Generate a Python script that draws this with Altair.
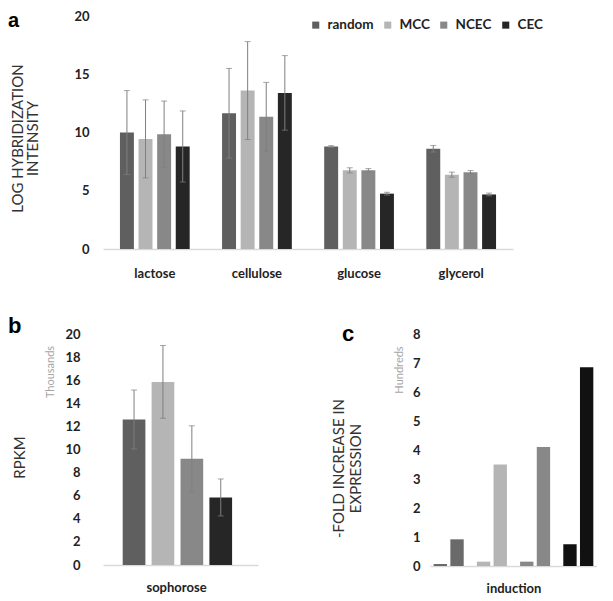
import altair as alt
import pandas as pd

# ---------------- data ----------------
substrates = ["lactose", "cellulose", "glucose", "glycerol"]
series = ["random", "MCC", "NCEC", "CEC"]
colors = ["#5f5f5f", "#b5b5b5", "#888888", "#262626"]
colors_c = ["#6a6a6a", "#b5b5b5", "#888888", "#111111"]

# panel a: log hybridization intensity (value, +/- error) per substrate, order = series
hyb_lactose = [10.0, 9.45, 9.85, 8.8]
hyb_lactose_err = [3.6, 3.35, 2.85, 3.05]
hyb_cellulose = [11.65, 13.6, 11.35, 13.4]
hyb_cellulose_err = [3.85, 4.2, 2.95, 3.2]
hyb_glucose = [8.8, 6.75, 6.75, 4.75]
hyb_glucose_err = [0.07, 0.22, 0.15, 0.12]
hyb_glycerol = [8.6, 6.38, 6.58, 4.68]
hyb_glycerol_err = [0.28, 0.22, 0.15, 0.12]

# panel b: RPKM (thousands) on sophorose
rpkm_sophorose = [12.6, 15.85, 9.2, 5.85]
rpkm_err = [2.55, 3.15, 2.85, 1.6]

# panel c: fold increase in expression (hundreds)
conditions = ["basal", "induced"]
fold_basal = [0.07, 0.15, 0.15, 0.75]
fold_induced = [0.92, 3.5, 4.1, 6.85]

# ---------------- tables ----------------
hyb_vals = [hyb_lactose, hyb_cellulose, hyb_glucose, hyb_glycerol]
hyb_errs = [hyb_lactose_err, hyb_cellulose_err, hyb_glucose_err, hyb_glycerol_err]
rows = []
for s, vals, errs in zip(substrates, hyb_vals, hyb_errs):
    for ser, v, e in zip(series, vals, errs):
        rows.append({"substrate": s, "series": ser, "value": v, "lo": v - e, "hi": v + e})
df_a = pd.DataFrame(rows)

df_b = pd.DataFrame({
    "series": series,
    "value": rpkm_sophorose,
    "lo": [v - e for v, e in zip(rpkm_sophorose, rpkm_err)],
    "hi": [v + e for v, e in zip(rpkm_sophorose, rpkm_err)],
})

rows = []
for ser, b, i in zip(series, fold_basal, fold_induced):
    rows.append({"series": ser, "condition": conditions[0], "value": b})
    rows.append({"series": ser, "condition": conditions[1], "value": i})
df_c = pd.DataFrame(rows)

FONT = "Lato"
LBL = "#222222"
TTL = "#333333"
ERR = "#7f7f7f"
BASE = "#d9d9d9"


def y_axis(values, title, pad, tx, ty, lh):
    return alt.Axis(values=values, grid=False, domain=False, ticks=False,
                    labelFont=FONT, labelFontWeight="bold", labelFontSize=13,
                    labelColor=LBL, labelPadding=pad, labelOverlap=False,
                    title=title, titleFont=FONT, titleFontWeight="normal",
                    titleFontSize=15, titleColor=TTL, titleX=tx, titleY=ty,
                    titleLineHeight=lh, titleBaseline="alphabetic", titleAlign="center",
                    titleAngle=270)


def letter(ch, x, y, size=22):
    return alt.Chart(pd.DataFrame({"t": [ch]})).mark_text(
        font="Liberation Sans", fontWeight="bold", fontSize=size, align="left",
        baseline="alphabetic", color="#000000"
    ).encode(text="t:N", x=alt.value(x), y=alt.value(y))


def unit_label(txt, x, y):
    return alt.Chart(pd.DataFrame({"t": [txt]})).mark_text(
        font=FONT, fontSize=11, angle=270, color="#a6a6a6", align="center",
        baseline="middle"
    ).encode(text="t:N", x=alt.value(x), y=alt.value(y))


# ---------------- panel a ----------------
scale_ya = alt.Scale(domain=[0, 20])
axis_ya = y_axis([0, 5, 10, 15, 20], ["LOG HYBRIDIZATION", "INTENSITY"], 14, -81, 122, 15)
base_a = alt.Chart(df_a).encode(
    x=alt.X("substrate:N", sort=substrates,
            scale=alt.Scale(paddingInner=0.317, paddingOuter=0.166),
            axis=alt.Axis(title=None, labelAngle=0, labelFont=FONT, labelFontWeight="bold",
                          labelFontSize=13, labelColor=LBL, labelPadding=18, ticks=False,
                          domainColor=BASE, domainWidth=1.5)),
    xOffset=alt.XOffset("series:N", sort=series,
                        scale=alt.Scale(paddingInner=0.25, paddingOuter=0)),
)
bars_a = base_a.mark_bar().encode(
    y=alt.Y("value:Q", scale=scale_ya, axis=axis_ya),
    color=alt.Color("series:N", sort=series, scale=alt.Scale(domain=series, range=colors),
                    legend=alt.Legend(title=None, orient="none", legendX=206, legendY=2,
                                      direction="horizontal", columns=4, symbolType="square",
                                      symbolSize=50, symbolStrokeWidth=0, labelFont=FONT,
                                      labelFontWeight="bold", labelFontSize=13.5,
                                      labelColor=LBL, labelOffset=5, columnPadding=7,
                                      padding=0)),
)
rule_a = base_a.mark_rule(color=ERR, strokeWidth=1).encode(
    y=alt.Y("lo:Q", scale=scale_ya, axis=axis_ya), y2="hi:Q")
cap_hi_a = base_a.mark_tick(color=ERR, thickness=1, size=6).encode(
    y=alt.Y("hi:Q", scale=scale_ya, axis=axis_ya))
cap_lo_a = base_a.mark_tick(color=ERR, thickness=1, size=6).encode(
    y=alt.Y("lo:Q", scale=scale_ya, axis=axis_ya))

panel_a = alt.layer(bars_a, rule_a, cap_hi_a, cap_lo_a, letter("a", -95, 11, 20)).properties(
    width=410, height=233)

# ---------------- panel b ----------------
scale_yb = alt.Scale(domain=[0, 20])
axis_yb = y_axis(list(range(0, 21, 2)), "RPKM", 23, -79, 123, 15)
base_b = alt.Chart(df_b).encode(
    x=alt.X("series:N", sort=series,
            scale=alt.Scale(paddingInner=0.215, paddingOuter=0.789, align=0.432),
            axis=alt.Axis(labels=False, ticks=False, title="sophorose", titleFont=FONT,
                          titleFontWeight="bold", titleFontSize=13, titleColor=LBL,
                          titlePadding=16, titleX=73, domainColor=BASE, domainWidth=1.5)),
)
bars_b = base_b.mark_bar().encode(
    y=alt.Y("value:Q", scale=scale_yb, axis=axis_yb),
    color=alt.Color("series:N", sort=series, scale=alt.Scale(domain=series, range=colors),
                    legend=None),
)
rule_b = base_b.mark_rule(color=ERR, strokeWidth=1).encode(
    y=alt.Y("lo:Q", scale=scale_yb, axis=axis_yb), y2="hi:Q")
cap_hi_b = base_b.mark_tick(color=ERR, thickness=1, size=6).encode(
    y=alt.Y("hi:Q", scale=scale_yb, axis=axis_yb))
cap_lo_b = base_b.mark_tick(color=ERR, thickness=1, size=6).encode(
    y=alt.Y("lo:Q", scale=scale_yb, axis=axis_yb))

panel_b = alt.layer(bars_b, rule_b, cap_hi_b, cap_lo_b, letter("b", -95, -1),
                    unit_label("Thousands", -52, 38)).properties(width=155, height=231)

# ---------------- panel c ----------------
bars_c = alt.Chart(df_c).mark_bar().encode(
    x=alt.X("series:N", sort=series,
            scale=alt.Scale(paddingInner=0.305, paddingOuter=0.085),
            axis=alt.Axis(labels=False, ticks=False, title="induction", titleFont=FONT,
                          titleFontWeight="bold", titleFontSize=13, titleColor=LBL,
                          titlePadding=16, domainColor=BASE, domainWidth=1.5)),
    xOffset=alt.XOffset("condition:N", sort=conditions,
                        scale=alt.Scale(paddingInner=0.2, paddingOuter=0)),
    y=alt.Y("value:Q", scale=alt.Scale(domain=[0, 8]),
            axis=y_axis(list(range(0, 9)), ["-FOLD INCREASE  IN", "EXPRESSION"], 10, -87, 134, 17.5)),
    color=alt.Color("series:N", sort=series, scale=alt.Scale(domain=series, range=colors_c),
                    legend=None),
)
panel_c = alt.layer(bars_c, letter("c", -88, 7),
                    unit_label("Hundreds", -30, 36)).properties(width=167, height=232)

bottom = alt.hconcat(panel_b, panel_c, spacing=172, bounds="flush").resolve_scale(
    x="independent", y="independent", xOffset="independent", color="independent")

chart = alt.concat(panel_a, bottom, columns=1, spacing=35).resolve_scale(
    x="independent", y="independent", xOffset="independent", color="independent"
).properties(padding={"top": 2, "left": 0, "right": 0, "bottom": 0}).configure(
    background="#ffffff").configure_view(stroke=None)

chart.save("out.html", embed_options={"renderer": "svg", "actions": False})
